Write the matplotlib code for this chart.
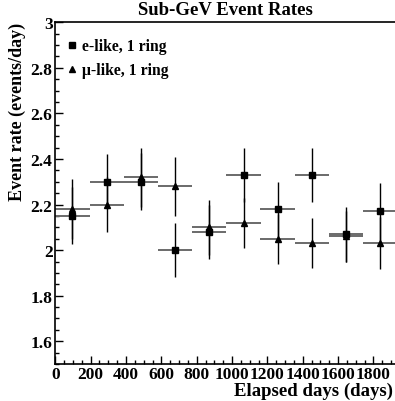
import matplotlib
matplotlib.use("Agg")
import matplotlib.pyplot as plt
from matplotlib.ticker import MultipleLocator

# bin centres (days) and half widths
days = [97, 291, 484, 678, 871, 1065, 1258, 1452, 1645, 1839]
half_width = [97, 97, 97, 97, 97, 97, 97, 97, 97, 97]

e_like = [2.15, 2.30, 2.30, 2.00, 2.08, 2.33, 2.18, 2.33, 2.07, 2.17]
e_err = [0.125, 0.12, 0.125, 0.12, 0.12, 0.12, 0.12, 0.12, 0.12, 0.125]
mu_like = [2.18, 2.20, 2.32, 2.28, 2.10, 2.12, 2.05, 2.03, 2.06, 2.03]
mu_err = [0.13, 0.12, 0.13, 0.13, 0.12, 0.11, 0.11, 0.11, 0.11, 0.115]

plt.rcParams["font.family"] = ["Liberation Serif", "DejaVu Serif"]
plt.rcParams["font.weight"] = "bold"

fig = plt.figure(figsize=(3.95, 4.02), dpi=100)
ax = fig.add_axes([0.14, 0.092, 0.86, 0.85])

# horizontal bars (grey-ish), vertical bars (black)
for y, err in [(e_like, e_err), (mu_like, mu_err)]:
    ax.errorbar(days, y, xerr=half_width, fmt="none", ecolor="#6a6a6a", elinewidth=1.4, capsize=0)
    ax.errorbar(days, y, yerr=err, fmt="none", ecolor="black", elinewidth=1.0, capsize=0)

ax.plot(days, e_like, "s", color="black", markersize=5, label="e-like, 1 ring")
ax.plot(days, mu_like, "^", color="black", markersize=4.5, label="\u03bc-like, 1 ring")

ax.set_xlim(0, 1922)
ax.set_ylim(1.5, 3.0)
ax.xaxis.set_major_locator(MultipleLocator(200))
ax.xaxis.set_minor_locator(MultipleLocator(50))
ax.yaxis.set_minor_locator(MultipleLocator(0.05))
ax.set_yticks([1.6, 1.8, 2.0, 2.2, 2.4, 2.6, 2.8, 3.0])
ax.set_yticklabels(["1.6", "1.8", "2", "2.2", "2.4", "2.6", "2.8", "3"])

ax.tick_params(which="both", direction="in", top=False, right=False, labelsize=12.5, width=1)
ax.tick_params(which="major", length=6)
ax.tick_params(which="minor", length=3)
ax.tick_params(axis="x", pad=1.5)
ax.tick_params(axis="y", pad=2)
for lab in ax.get_xticklabels() + ax.get_yticklabels():
    lab.set_fontweight("bold")

ax.spines["right"].set_visible(False)
for side in ["left", "bottom", "top"]:
    ax.spines[side].set_linewidth(1.2)

ax.legend(loc="upper left", bbox_to_anchor=(0.0, 0.985), frameon=False, handlelength=0.7,
          handletextpad=0.3, labelspacing=0.5, borderaxespad=0.3,
          borderpad=0.4, prop={"weight": "bold", "size": 11.3})

fig.text(0.57, 0.975, "Sub-GeV Event Rates", ha="center", va="center", fontsize=13.5, fontweight="bold")
fig.text(0.043, 0.942, "Event rate (events/day)", ha="center", va="top", rotation=90,
         fontsize=13, fontweight="bold")
fig.text(0.995, 0.015, "Elapsed days (days)", ha="right", va="baseline", fontsize=13.5, fontweight="bold")

fig.savefig("out.png", dpi=100)
